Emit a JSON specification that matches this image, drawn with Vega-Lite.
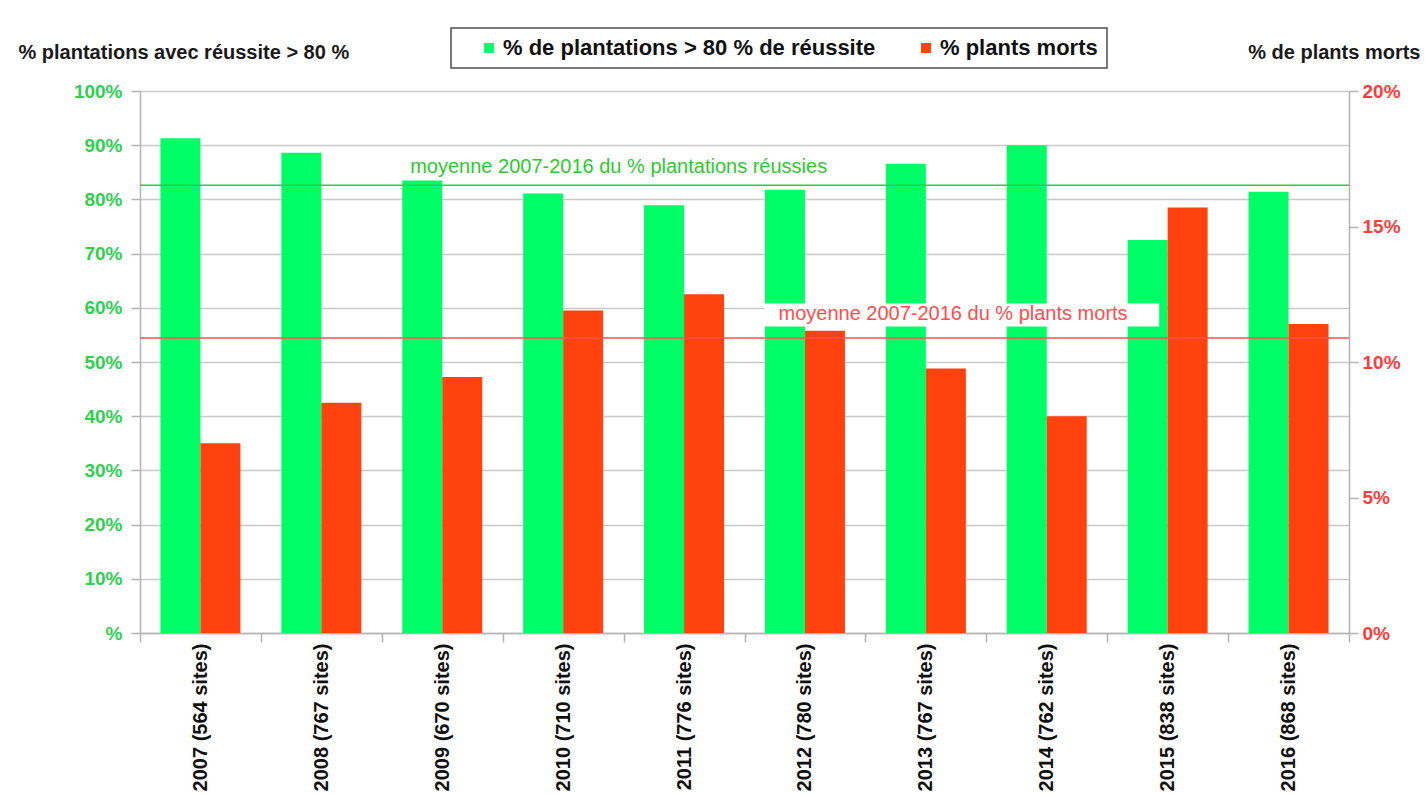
{
  "$schema": "https://vega.github.io/schema/vega-lite/v6.json",
  "width": 1209,
  "height": 542,
  "autosize": {"type": "none"},
  "padding": {"left": 140, "top": 91, "right": 76, "bottom": 161},
  "background": "white",
  "config": {
    "font": "Liberation Sans",
    "view": {"stroke": null},
    "axis": {
      "domainColor": "#b3b3b3",
      "domainWidth": 1.5,
      "tickColor": "#b3b3b3",
      "tickWidth": 1.5,
      "gridColor": "#c8c8c8",
      "gridWidth": 1.5
    },
    "legend": {"strokeWidth": 1.5}
  },
  "datasets": {
    "mesures": [
      {"annee": "2007 (564 sites)", "serie": "% de plantations > 80 % de réussite", "valeur": 91.3},
      {"annee": "2008 (767 sites)", "serie": "% de plantations > 80 % de réussite", "valeur": 88.6},
      {"annee": "2009 (670 sites)", "serie": "% de plantations > 80 % de réussite", "valeur": 83.5},
      {"annee": "2010 (710 sites)", "serie": "% de plantations > 80 % de réussite", "valeur": 81.1},
      {"annee": "2011 (776 sites)", "serie": "% de plantations > 80 % de réussite", "valeur": 78.9},
      {"annee": "2012 (780 sites)", "serie": "% de plantations > 80 % de réussite", "valeur": 81.8},
      {"annee": "2013 (767 sites)", "serie": "% de plantations > 80 % de réussite", "valeur": 86.6},
      {"annee": "2014 (762 sites)", "serie": "% de plantations > 80 % de réussite", "valeur": 90.0},
      {"annee": "2015 (838 sites)", "serie": "% de plantations > 80 % de réussite", "valeur": 72.5},
      {"annee": "2016 (868 sites)", "serie": "% de plantations > 80 % de réussite", "valeur": 81.4},
      {"annee": "2007 (564 sites)", "serie": "% plants morts", "valeur": 7.0},
      {"annee": "2008 (767 sites)", "serie": "% plants morts", "valeur": 8.5},
      {"annee": "2009 (670 sites)", "serie": "% plants morts", "valeur": 9.45},
      {"annee": "2010 (710 sites)", "serie": "% plants morts", "valeur": 11.9},
      {"annee": "2011 (776 sites)", "serie": "% plants morts", "valeur": 12.5},
      {"annee": "2012 (780 sites)", "serie": "% plants morts", "valeur": 11.15},
      {"annee": "2013 (767 sites)", "serie": "% plants morts", "valeur": 9.76},
      {"annee": "2014 (762 sites)", "serie": "% plants morts", "valeur": 8.0},
      {"annee": "2015 (838 sites)", "serie": "% plants morts", "valeur": 15.7},
      {"annee": "2016 (868 sites)", "serie": "% plants morts", "valeur": 11.4}
    ],
    "moyennes": [
      {"serie": "% de plantations > 80 % de réussite", "valeur": 82.6, "libelle": "moyenne 2007-2016 du % plantations réussies"},
      {"serie": "% plants morts", "valeur": 10.89, "libelle": "moyenne 2007-2016 du % plants morts"}
    ]
  },
  "resolve": {"scale": {"x": "independent", "y": "independent"}},
  "layer": [
    {
      "layer": [
        {
          "data": {"name": "mesures"},
          "transform": [{"filter": {"field": "serie", "equal": "% de plantations > 80 % de réussite"}}],
          "mark": {"type": "bar"},
          "encoding": {
            "x": {
              "field": "annee",
              "type": "nominal",
              "sort": null,
              "scale": {"paddingInner": 0, "paddingOuter": 0},
              "axis": {
                "orient": "bottom",
                "title": null,
                "grid": false,
                "tickBand": "extent",
                "tickSize": 9,
                "labelAngle": 270,
                "labelAlign": "right",
                "labelBaseline": "middle",
                "labelPadding": 1,
                "labelFontSize": 20,
                "labelFontWeight": "bold",
                "labelColor": "#111111",
                "labelLimit": 400
              }
            },
            "xOffset": {
              "field": "serie",
              "type": "nominal",
              "scale": {"domain": ["% de plantations > 80 % de réussite", "% plants morts"], "paddingInner": 0, "paddingOuter": 0.511}
            },
            "y": {
              "field": "valeur",
              "type": "quantitative",
              "scale": {"domain": [0, 100], "nice": false},
              "axis": {
                "orient": "left",
                "values": [0, 10, 20, 30, 40, 50, 60, 70, 80, 90, 100],
                "labelExpr": "datum.value == 0 ? '%' : datum.value + '%'",
                "grid": true,
                "tickSize": 9,
                "labelPadding": 9,
                "labelFontSize": 19,
                "labelFontWeight": "bold",
                "labelColor": "#2fd04f",
                "title": "% plantations avec réussite > 80 %",
                "titleAngle": 0,
                "titleAlign": "left",
                "titleBaseline": "middle",
                "titleX": -122,
                "titleY": -39,
                "titleFontSize": 20,
                "titleFontWeight": "bold",
                "titleColor": "#1a1a1a"
              }
            },
            "color": {
              "field": "serie",
              "type": "nominal",
              "scale": {"domain": ["% de plantations > 80 % de réussite", "% plants morts"], "range": ["#00ff66", "#ff420e"]},
              "legend": {
                "orient": "none",
                "legendX": 311,
                "legendY": -63,
                "direction": "horizontal",
                "title": null,
                "strokeColor": "#4d4d4d",
                "fillColor": "white",
                "padding": 9,
                "symbolType": "square",
                "symbolSize": 100,
                "symbolStrokeWidth": 0,
                "symbolOffset": 18,
                "labelFontSize": 22,
                "labelFontWeight": "bold",
                "labelColor": "#111111",
                "labelOffset": 3,
                "labelExpr": "datum.label == '% plants morts' ? datum.label + '\u00a0\u00a0\u00a0\u00a0' : datum.label",
                "columnPadding": 21,
                "labelLimit": 600
              }
            }
          }
        },
        {
          "data": {"name": "moyennes"},
          "transform": [{"filter": {"field": "serie", "equal": "% de plantations > 80 % de réussite"}}],
          "mark": {"type": "rule", "color": "#33cc33", "strokeWidth": 1.5},
          "encoding": {"y": {"field": "valeur", "type": "quantitative"}}
        }
      ]
    },
    {
      "layer": [
        {
          "data": {"name": "mesures"},
          "transform": [{"filter": {"field": "serie", "equal": "% plants morts"}}],
          "mark": {"type": "bar"},
          "encoding": {
            "x": {
              "field": "annee",
              "type": "nominal",
              "sort": null,
              "scale": {"paddingInner": 0, "paddingOuter": 0},
              "axis": null
            },
            "xOffset": {
              "field": "serie",
              "type": "nominal",
              "scale": {"domain": ["% de plantations > 80 % de réussite", "% plants morts"], "paddingInner": 0, "paddingOuter": 0.511}
            },
            "y": {
              "field": "valeur",
              "type": "quantitative",
              "scale": {"domain": [0, 20], "nice": false},
              "axis": {
                "orient": "right",
                "values": [0, 5, 10, 15, 20],
                "labelExpr": "datum.value + '%'",
                "grid": false,
                "tickSize": 9,
                "labelPadding": 4,
                "labelFontSize": 19,
                "labelFontWeight": "bold",
                "labelColor": "#ff3b3b",
                "title": "% de plants morts",
                "titleAngle": 0,
                "titleAlign": "right",
                "titleBaseline": "middle",
                "titleX": 71,
                "titleY": -39,
                "titleFontSize": 20,
                "titleFontWeight": "bold",
                "titleColor": "#1a1a1a"
              }
            },
            "color": {
              "field": "serie",
              "type": "nominal",
              "scale": {"domain": ["% de plantations > 80 % de réussite", "% plants morts"], "range": ["#00ff66", "#ff420e"]}
            }
          }
        },
        {
          "data": {"name": "moyennes"},
          "transform": [{"filter": {"field": "serie", "equal": "% plants morts"}}],
          "mark": {"type": "rule", "color": "#ff5050", "strokeWidth": 1.5},
          "encoding": {"y": {"field": "valeur", "type": "quantitative"}}
        }
      ]
    },
    {
      "data": {"name": "moyennes"},
      "transform": [{"filter": {"field": "serie", "equal": "% de plantations > 80 % de réussite"}}],
      "mark": {"type": "text", "align": "left", "baseline": "middle", "dy": -18, "fontSize": 20, "color": "#30c830"},
      "encoding": {
        "x": {"datum": 2.235, "type": "quantitative", "scale": {"domain": [0, 10], "nice": false, "zero": false}, "axis": null},
        "y": {"field": "valeur", "type": "quantitative", "scale": {"domain": [0, 100], "nice": false}, "axis": null},
        "text": {"field": "libelle"}
      }
    },
    {
      "data": {"name": "moyennes"},
      "transform": [{"filter": {"field": "serie", "equal": "% plants morts"}}],
      "layer": [
        {
          "mark": {"type": "rect", "fill": "white"},
          "encoding": {
            "x": {"datum": 5.165, "type": "quantitative", "scale": {"domain": [0, 10], "nice": false, "zero": false}, "axis": null},
            "x2": {"datum": 8.43},
            "y": {"datum": 12.16, "type": "quantitative", "scale": {"domain": [0, 20], "nice": false}, "axis": null},
            "y2": {"datum": 11.31}
          }
        },
        {
          "mark": {"type": "text", "align": "center", "baseline": "middle", "dy": -24, "fontSize": 20, "color": "#ff4d4d"},
          "encoding": {
            "x": {"datum": 6.725, "type": "quantitative"},
            "y": {"field": "valeur", "type": "quantitative"},
            "text": {"field": "libelle"}
          }
        }
      ]
    }
  ]
}
